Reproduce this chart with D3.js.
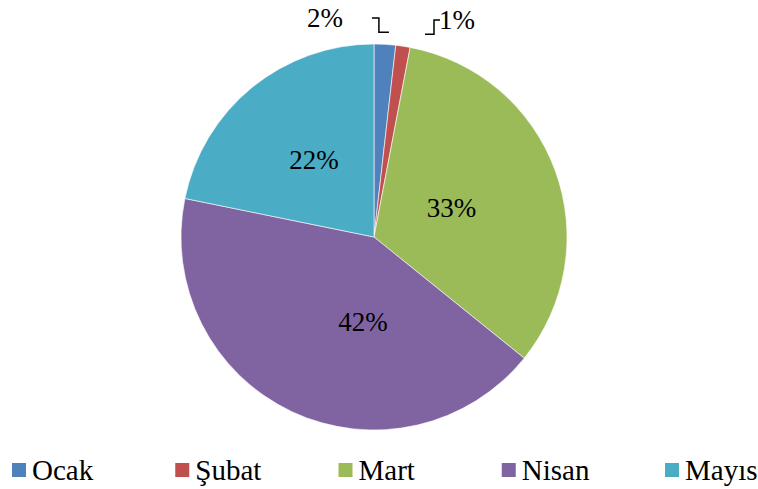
<!DOCTYPE html>
<html>
<head>
<meta charset="utf-8">
<script src="https://cdn.jsdelivr.net/npm/d3@7"></script>
<style>
  body { margin: 0; background: #fff; font-family: "Liberation Serif", serif; }
  svg text { font-family: "Liberation Serif", serif; }
  #chart { position: relative; }
  .preload { position: absolute; left: 0; top: 0; font-size: 1px; color: #fff; }
</style>
</head>
<body>
<div class="preload">Ocak Şubat Mart Nisan Mayıs 0123456789%</div>
<div id="chart"></div>
<script>
const months = ["Ocak", "Şubat", "Mart", "Nisan", "Mayıs"];
const shares = [1.8, 1.2, 32.8, 42.4, 21.8];
const labels = ["2%", "1%", "33%", "42%", "22%"];
const colors = ["#4F81BD", "#C0504D", "#9BBB59", "#8064A2", "#4BACC6"];

const width = 758, height = 489;
const cx = 374, cy = 237, radius = 193;
// Excel's best-fit label placement, approximated as offsets from the centroid
const labelNudge = [[0, 0], [0, 0], [-13, 4], [30, -3], [1, -3]];

const svg = d3.select("#chart").append("svg")
  .attr("width", width)
  .attr("height", height)
  .attr("font-family", "Liberation Serif");

const pie = d3.pie().sort(null).value((d) => d);
const arcs = pie(shares);
const arc = d3.arc().innerRadius(0).outerRadius(radius);
const labelArc = d3.arc().innerRadius(radius * 0.5).outerRadius(radius * 0.5);

const g = svg.append("g").attr("transform", `translate(${cx},${cy})`);

g.selectAll("path.slice")
  .data(arcs)
  .enter()
  .append("path")
  .attr("class", "slice")
  .attr("d", arc)
  .attr("fill", (d, i) => colors[i])
  .attr("stroke", "#fff")
  .attr("stroke-width", 0.6);

// small slices get outside labels with elbow leader lines
const small = (d) => d.endAngle - d.startAngle < 0.15;
const edge = (d) => {
  const a = (d.startAngle + d.endAngle) / 2;
  return [radius * Math.sin(a), -radius * Math.cos(a)];
};

arcs.forEach((d, i) => {
  if (small(d)) {
    const [ex, ey] = edge(d);
    const left = i === 0;
    const y1 = ey - 12;
    const y0 = left ? -radius - 26 : -radius - 24;
    const bx = left ? ex - 6 : ex + 31;
    const path = left
      ? `M${bx - 7},${y0}H${bx}V${y1}H${ex + 4}`
      : `M${ex + 22},${y1}H${bx}V${y0}H${bx + 6}`;
    g.append("path")
      .attr("d", path)
      .attr("fill", "none")
      .attr("stroke", "#000")
      .attr("stroke-width", 1.5);
    g.append("text")
      .attr("x", left ? bx - 54 : bx + 23)
      .attr("y", y0 + 8.5)
      .attr("text-anchor", "middle")
      .attr("font-size", 27)
      .text(labels[i]);
  } else {
    const [lx, ly] = labelArc.centroid(d);
    g.append("text")
      .attr("x", lx + labelNudge[i][0])
      .attr("y", ly + labelNudge[i][1] + 9.5)
      .attr("text-anchor", "middle")
      .attr("font-size", 27)
      .text(labels[i]);
  }
});

// legend
const legendX = d3.scalePoint().domain(months).range([12, 665]);
const legend = svg.append("g").attr("transform", "translate(0,470)");
const item = legend.selectAll("g")
  .data(months)
  .enter()
  .append("g")
  .attr("transform", (d) => `translate(${legendX(d)},0)`);
item.append("rect")
  .attr("x", 0)
  .attr("y", -7)
  .attr("width", 14)
  .attr("height", 14)
  .attr("fill", (d, i) => colors[i]);
item.append("text")
  .attr("x", 20)
  .attr("y", 10)
  .attr("font-size", 29)
  .text((d) => d);
</script>
</body>
</html>
